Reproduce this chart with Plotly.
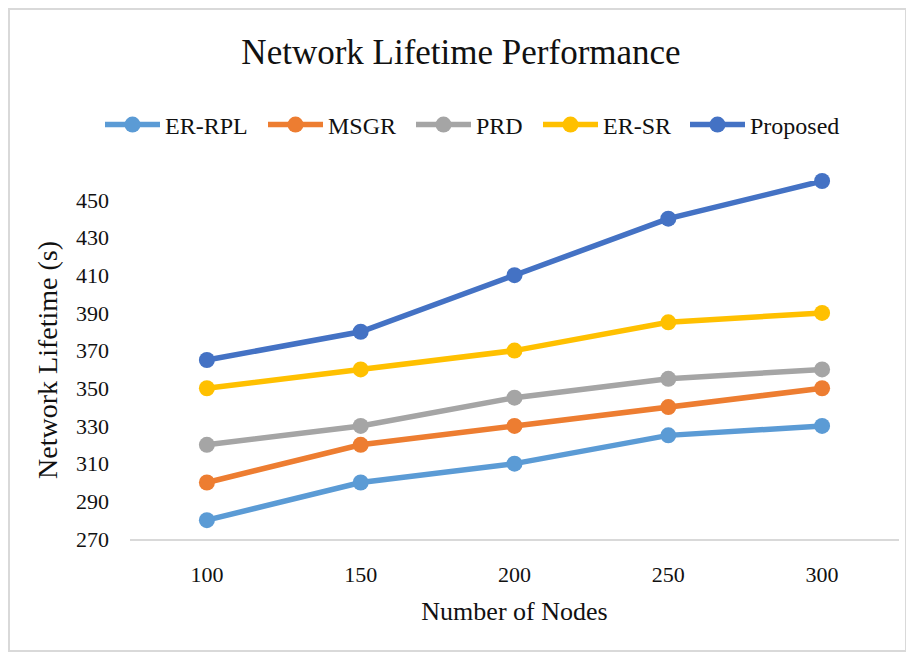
import plotly.graph_objects as go

nodes = ["100", "150", "200", "250", "300"]
er_rpl = [280, 300, 310, 325, 330]
msgr = [300, 320, 330, 340, 350]
prd = [320, 330, 345, 355, 360]
er_sr = [350, 360, 370, 385, 390]
proposed = [365, 380, 410, 440, 460]

series_names = ["ER-RPL", "MSGR", "PRD", "ER-SR", "Proposed"]
series_vals = [er_rpl, msgr, prd, er_sr, proposed]
colors = ["#5B9BD5", "#ED7D31", "#A5A5A5", "#FFC000", "#4472C4"]

y_ticks = [270, 290, 310, 330, 350, 370, 390, 410, 430, 450]

FONT = "Liberation Serif"
TXT = "#111111"

# page is offset by 8px body margin; figure coords = page coords - 8
OFF = 8
W, H = 914 - OFF, 667 - OFF
L, R, T, B = 130 - OFF, 15, 181 - OFF, 128
pw = W - L - R
ph = H - T - B

def px_x(p):
    return (p - OFF - L) / pw

def px_y(p):
    return (H - B - (p - OFF)) / ph

legend_ids = ["legend", "legend2", "legend3", "legend4", "legend5"]
legend_px = [100, 263, 411, 538, 685]

fig = go.Figure()
for name, vals, col, lid in zip(series_names, series_vals, colors, legend_ids):
    fig.add_trace(go.Scatter(
        x=nodes, y=vals, name=name, mode="lines+markers",
        line=dict(color=col, width=5.5),
        marker=dict(color=col, size=16),
        cliponaxis=False, legend=lid,
    ))

legend_style = dict(orientation="h", xanchor="left", yanchor="middle",
                    y=px_y(125), font=dict(size=24, family=FONT, color=TXT),
                    itemwidth=55, bgcolor="rgba(0,0,0,0)")
legends = {lid: dict(x=px_x(xp), **legend_style) for lid, xp in zip(legend_ids, legend_px)}

fig.update_layout(
    width=W, height=H,
    margin=dict(l=L, r=R, t=T, b=B),
    paper_bgcolor="white", plot_bgcolor="white",
    font=dict(family=FONT, color=TXT),
    title=dict(text="Network Lifetime Performance", x=0.5, xanchor="center",
               y=1 - (52 - OFF) / H, yanchor="middle",
               font=dict(size=35, family=FONT, color=TXT)),
    showlegend=True,
    xaxis=dict(type="category", range=[-0.5, 4.5], showgrid=False,
               showline=True, linecolor="#D9D9D9", linewidth=2,
               ticks="", ticklabelstandoff=15,
               tickfont=dict(size=22, family=FONT, color=TXT),
               title=dict(text="Number of Nodes", standoff=15,
                          font=dict(size=26, family=FONT, color=TXT)),
               zeroline=False),
    yaxis=dict(range=[270, 460], tickvals=y_ticks, showgrid=False,
               showline=False, zeroline=False, ticks="",
               ticklabelstandoff=20,
               tickfont=dict(size=22, family=FONT, color=TXT),
               title=dict(text="Network Lifetime (s)", standoff=10,
                          font=dict(size=28, family=FONT, color=TXT))),
    shapes=[dict(type="rect", xref="paper", yref="paper",
                 x0=px_x(9), x1=px_x(906), y0=px_y(651), y1=px_y(9),
                 line=dict(color="#D9D9D9", width=2), fillcolor="rgba(0,0,0,0)",
                 layer="below")],
    **legends,
)

fig.write_html("out.html")
